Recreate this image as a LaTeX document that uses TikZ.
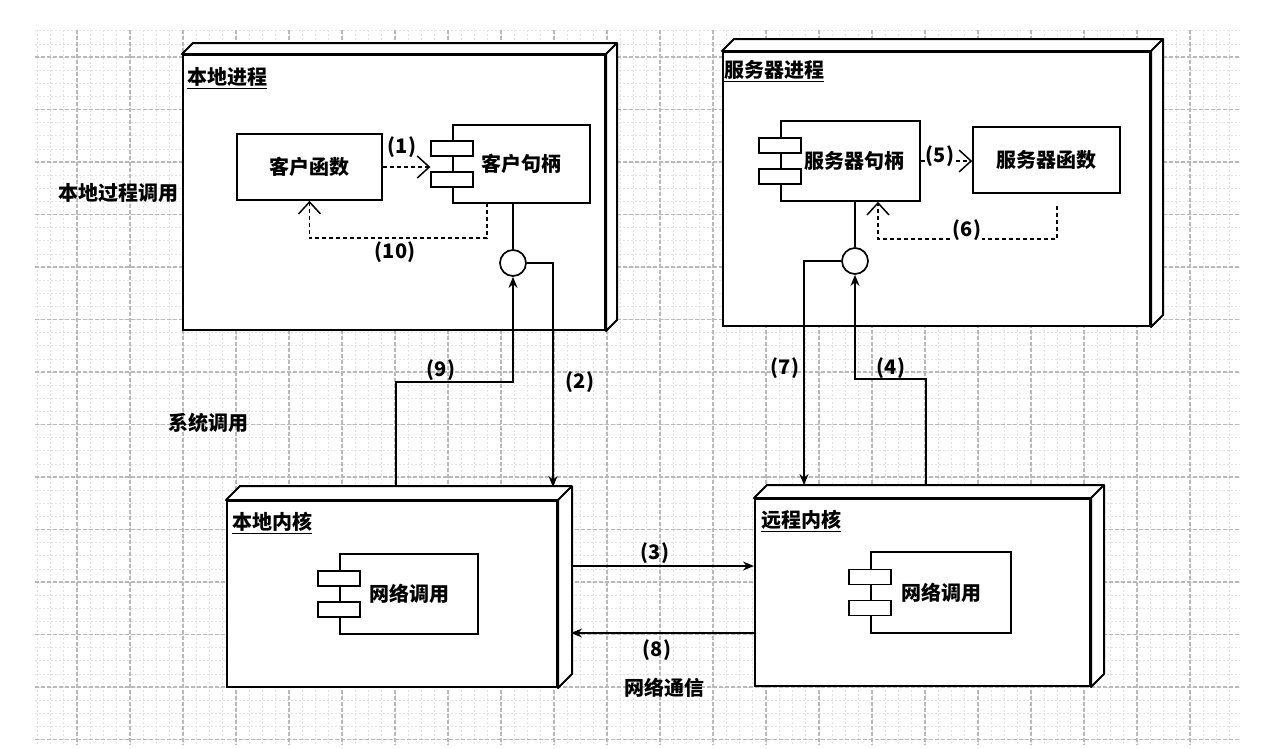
\documentclass[tikz,border=0pt]{standalone}
\usepackage{fontspec}
\setmainfont{Noto Sans CJK SC}
\usetikzlibrary{arrows.meta,calc}
\tikzset{
  ln/.style={line width=2pt, black},
  box3d/.style={draw, line width=2pt, fill=white, inner sep=0pt},
  comp/.style={draw, line width=1.7pt, fill=white, inner sep=0pt, font=\bfseries\fontsize{20}{20}\selectfont},
  smallrect/.style={draw, line width=1.6pt, fill=white, inner sep=0pt, minimum width=42pt, minimum height=15pt},
  lolli/.style={draw, circle, line width=1.7pt, fill=white, inner sep=0pt, minimum size=26pt},
  lbl/.style={font=\bfseries\fontsize{20}{20}\selectfont, inner sep=1pt},
  title/.style={font=\bfseries\fontsize{20}{20}\selectfont, inner sep=0pt, anchor=west},
  solidarr/.style={line width=1.7pt, -{Stealth[length=11pt,width=9pt]}},
  dasharr/.style={line width=1.5pt, dash pattern=on 4pt off 3pt, -{Straight Barb[length=12pt,width=22pt,line width=1.5pt]}},
  minorgrid/.style={gray!22, line width=0.6pt, dash pattern=on 2pt off 2pt},
  majorgrid/.style={gray!55, line width=1.1pt, dash pattern=on 4pt off 2pt},
}
\newcommand\nodeThreeD[6]{% name, x, y, width, height, depth
  \node[box3d, minimum width=#4pt, minimum height=#5pt] (#1) at (#2,#3) {};
  \draw[ln, fill=white, line join=round] (#1.north west) -- ++(#6,-#6) -- ($(#1.north east)+(#6,-#6)$) -- ($(#1.south east)+(#6,-#6)$) -- (#1.south east) -- (#1.north east) -- cycle;
  \draw[ln] (#1.north east) -- ++(#6,-#6);
}
\newcommand\compoBox[6]{% name, x, y, width, height, text
  \node[comp, minimum width=#4pt, minimum height=#5pt] (#1) at (#2,#3) {#6};
  \node[smallrect] (#1-a) at ($(#1.west)+(0,-15.5)$) {};
  \node[smallrect] (#1-b) at ($(#1.west)+(0,15.5)$) {};
}
\begin{document}
\begin{tikzpicture}[x=1pt,y=-1pt]
\useasboundingbox (0,0) rectangle (1281,748);
\fill[white] (0,0) rectangle (1281,748);
% grid background
\foreach \k in {0,...,90} {\draw[minorgrid] ({37.25+13.25*\k},30) -- ({37.25+13.25*\k},745);}
\foreach \k in {0,...,54} {\draw[minorgrid] (35,{30.75+13.125*\k}) -- (1240,{30.75+13.125*\k});}
\foreach \k in {0,...,21} {\draw[majorgrid] ({77+53*\k},30) -- ({77+53*\k},745);}
\foreach \k in {0,...,13} {\draw[majorgrid] (35,{57+52.5*\k}) -- (1240,{57+52.5*\k});}

% 3D nodes
\nodeThreeD{boxA}{394}{192.5}{422}{275}{11}
\nodeThreeD{boxB}{936.5}{189}{427}{274}{12}
\nodeThreeD{boxC}{392}{594}{330}{186}{14}
\nodeThreeD{boxD}{922.5}{592.5}{335}{187}{13}

\node[title] (tA) at (187,78) {\underline{本地进程}};
\node[title] (tB) at (724,71) {\underline{服务器进程}};
\node[title] (tC) at (232,523) {\underline{本地内核}};
\node[title] (tD) at (761,521) {\underline{远程内核}};

% inner components
\node[comp, minimum width=145pt, minimum height=66pt] (clientfunc) at (309.5,167) {客户函数};
\compoBox{handleA}{521.5}{164}{137}{78}{客户句柄}
\compoBox{handleB}{850.5}{161}{139}{80}{\hspace*{8pt}服务器句柄}
\node[comp, minimum width=147pt, minimum height=66pt] (servfunc) at (1046.5,160) {服务器函数};
\compoBox{netC}{409}{594}{138}{80}{网络调用}
\compoBox{netD}{941}{592.5}{140}{81}{网络调用}

% lollipops
\node[lolli] (circA) at (513,263) {};
\node[lolli] (circB) at (855,261) {};
\draw[ln] (circA.north) -- (circA.north |- handleA.south);
\draw[ln] (circB.north) -- (circB.north |- handleB.south);

% named free ends
\coordinate (c2end) at (553,487);
\coordinate (c9start) at (396,487);
\coordinate (c9bend) at (513,382);
\coordinate (c7end) at (804,485);
\coordinate (c4start) at (926,485);
\coordinate (c4bend) at (855,379);
\coordinate (c3start) at (571,566);
\coordinate (c8end) at (571,633);
\coordinate (c10start) at (487,203);
\coordinate (c10bend) at (309.5,238);
\coordinate (c6start) at (1057,206);
\coordinate (c6bend) at (878,239);

% dashed dependencies
\draw[dasharr] (clientfunc.east) -- (clientfunc.east -| handleA-a.west);
\draw[dasharr] (c10start) |- (c10bend) -- (clientfunc.south);
\draw[dasharr] (handleB.east) -- (handleB.east -| servfunc.west);
\draw[dasharr] (c6start) |- (c6bend) -- (c6bend |- handleB.south);

% solid calls
\draw[solidarr] (circA.east) -| (c2end);
\draw[solidarr] (c9start) |- (c9bend) -- (circA.south);
\draw[solidarr] (circB.west) -| (c7end);
\draw[solidarr] (c4start) |- (c4bend) -- (circB.south);
\draw[solidarr] (c3start) -- (c3start -| boxD.west);
\draw[solidarr] (boxD.west |- c8end) -- (c8end);

% edge labels
\node[lbl] (l1) at (402,147) {(1)};
\node[lbl] (l2) at (580,382) {(2)};
\node[lbl] (l3) at (655,553) {(3)};
\node[lbl] (l4) at (891,368) {(4)};
\node[lbl, fill=white] (l5) at (940,156) {(5)};
\node[lbl, fill=white] (l6) at (967,230) {(6)};
\node[lbl] (l7) at (785,368) {(7)};
\node[lbl] (l8) at (657,650) {(8)};
\node[lbl] (l9) at (441,370) {(9)};
\node[lbl] (l10) at (395,252) {(10)};

% free labels
\node[lbl] (rpc) at (118,193) {本地过程调用};
\node[lbl] (sys) at (208,423) {系统调用};
\node[lbl] (net) at (664,688) {网络通信};
\end{tikzpicture}
\end{document}
